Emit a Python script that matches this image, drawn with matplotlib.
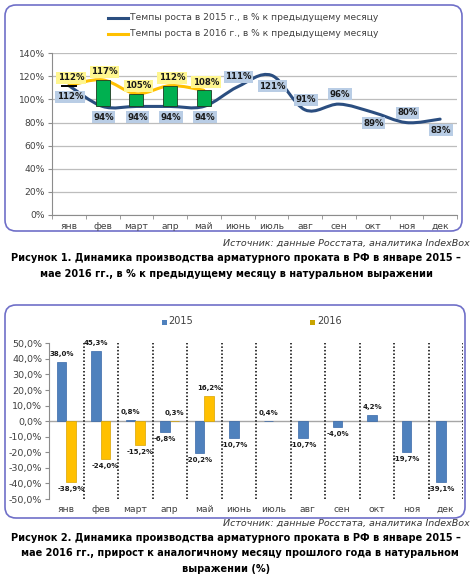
import matplotlib
matplotlib.use("Agg")
import matplotlib.pyplot as plt
from matplotlib.path import Path
from matplotlib.patches import PathPatch, FancyBboxPatch, Rectangle
from matplotlib.lines import Line2D
from matplotlib.transforms import IdentityTransform
import numpy as np

# ---------------- data ----------------
months = ['янв', 'фев', 'март', 'апр', 'май', 'июнь', 'июль', 'авг', 'сен', 'окт', 'ноя', 'дек']
growth_2015 = [112, 94, 94, 94, 94, 111, 121, 91, 96, 89, 80, 83]
growth_2016 = [112, 117, 105, 112, 108]
yoy_2015 = [38.0, 45.3, 0.8, -6.8, -20.2, -10.7, 0.4, -10.7, -4.0, 4.2, -19.7, -39.1]
yoy_2016 = [-38.9, -24.0, -15.2, 0.3, 16.2]
y1_ticks = [0, 20, 40, 60, 80, 100, 120, 140]
y2_ticks = [-50, -40, -30, -20, -10, 0, 10, 20, 30, 40, 50]
legend1 = ['Темпы роста в 2015 г., в % к предыдущему месяцу',
           'Темпы роста в 2016 г., в % к предыдущему месяцу']
legend2 = ['2015', '2016']
source = 'Источник: данные Росстата, аналитика IndexBox'
caption1 = ['Рисунок 1. Динамика производства арматурного проката в РФ в январе 2015 –',
            'мае 2016 гг., в % к предыдущему месяцу в натуральном выражении']
caption2 = ['Рисунок 2. Динамика производства арматурного проката в РФ в январе 2015 –',
            'мае 2016 гг., прирост к аналогичному месяцу прошлого года в натуральном',
            'выражении (%)']

# label placement styles (+1 above, -1 below)
pos_2015 = [-1, -1, -1, -1, -1, 1, -1, 1, 1, -1, 1, -1]

W, H = 474, 584
fig = plt.figure(figsize=(W / 100, H / 100), dpi=100)
fig.patch.set_facecolor('white')
ident = IdentityTransform()


def fx(x):
    return x / W


def fy(y):
    return 1 - y / H


def box(x0, y0, x1, y1):
    p = FancyBboxPatch((x0, H - y1), x1 - x0, y1 - y0,
                       boxstyle="round,pad=0,rounding_size=11",
                       transform=ident, fc='white', ec='#6F6FC8', lw=1.2, zorder=0)
    fig.add_artist(p)


def smooth_path(xs, ys):
    pts = np.column_stack([xs, ys]).astype(float)
    n = len(pts)
    verts = [pts[0]]
    codes = [Path.MOVETO]
    for i in range(n - 1):
        p0 = pts[i - 1] if i > 0 else pts[i]
        p1 = pts[i]
        p2 = pts[i + 1]
        p3 = pts[i + 2] if i + 2 < n else pts[i + 1]
        c1 = p1 + (p2 - p0) / 6.0
        c2 = p2 - (p3 - p1) / 6.0
        verts += [c1, c2, p2]
        codes += [Path.CURVE4] * 3
    return Path(verts, codes)


tick_color = '#404040'
spine_color = '#8C8C8C'

# ---------------- chart 1 ----------------
box(5, 5, 462, 231)
ax1 = fig.add_axes([fx(52), fy(215), (457 - 52) / W, (215 - 53.3) / H])
ax1.set_xlim(-0.5, 11.5)
ax1.set_ylim(0, 140)
ax1.set_facecolor('none')
ax1.set_yticks(y1_ticks)
ax1.set_yticklabels([f'{v}%' for v in y1_ticks])
ax1.yaxis.grid(True, color='#BDBDBD', lw=0.9)
ax1.set_axisbelow(True)
for s in ['top', 'right']:
    ax1.spines[s].set_visible(False)
for s in ['left', 'bottom']:
    ax1.spines[s].set_color(spine_color)
ax1.set_xticks(range(12))
ax1.set_xticklabels(months)
ax1.set_xticks(np.arange(-0.5, 12, 1), minor=True)
ax1.tick_params(axis='x', which='major', length=0, pad=5, labelsize=6.6, colors=tick_color)
ax1.tick_params(axis='x', which='minor', length=3, color=spine_color)
ax1.tick_params(axis='y', length=3, color=spine_color, labelsize=6.6, colors=tick_color, pad=2)

x15 = np.arange(len(growth_2015))
x16 = np.arange(len(growth_2016))
ax1.add_patch(PathPatch(smooth_path(x15, growth_2015), fc='none', ec='#2B4E80', lw=2.2, zorder=3,
                        capstyle='round'))
ax1.add_patch(PathPatch(smooth_path(x16, growth_2016), fc='none', ec='#FFC000', lw=2.2, zorder=3,
                        capstyle='round'))
# up/down bars
for i in range(len(growth_2016)):
    lo = min(growth_2015[i], growth_2016[i])
    hi = max(growth_2015[i], growth_2016[i])
    if hi - lo > 0:
        ax1.bar(i, hi - lo, bottom=lo, width=0.41, color='#00B050', edgecolor='#1E3A22', lw=0.6, zorder=4)
    else:
        ax1.plot([i - 0.205, i + 0.205], [lo, lo], color='black', lw=1.4, zorder=4)

lab_kw = dict(ha='center', va='center', fontsize=6.2, fontweight='bold', color='#1A1A1A',
              textcoords='offset pixels', zorder=6, annotation_clip=False)
for i, v in enumerate(growth_2015):
    off = 10 if pos_2015[i] > 0 else -11
    ax1.annotate(f'{v}%', (i, v), xytext=(1, off),
                 bbox=dict(boxstyle='square,pad=0.18', fc='#B9CDE5', ec='none'), **lab_kw)
for i, v in enumerate(growth_2016):
    ax1.annotate(f'{v}%', (i, v), xytext=(2, 8),
                 bbox=dict(boxstyle='square,pad=0.18', fc='#FFF68F', ec='none'), **lab_kw)

# legend 1
for k, (c, yy) in enumerate([('#2B4E80', 18), ('#FFC000', 33.5)]):
    fig.add_artist(Line2D([108, 128], [H - yy, H - yy], transform=ident, color=c, lw=2.2))
    fig.text(fx(130), fy(yy), legend1[k], ha='left', va='center', fontsize=6.6, color=tick_color)

fig.text(fx(470), fy(243), source, ha='right', va='center', fontsize=6.8,
         style='italic', color='#333333')
fig.text(fx(236), fy(258), caption1[0], ha='center', va='center', fontsize=7.0, fontweight='bold')
fig.text(fx(236), fy(274), caption1[1], ha='center', va='center', fontsize=7.0, fontweight='bold')

# ---------------- chart 2 ----------------
box(5, 305, 465, 518)
ax2 = fig.add_axes([fx(49), fy(499), (463 - 49) / W, (499 - 343.3) / H])
ax2.set_xlim(-0.5, 11.5)
ax2.set_ylim(-50, 50)
ax2.set_facecolor('none')
for s in ['top', 'right', 'bottom']:
    ax2.spines[s].set_visible(False)
ax2.spines['left'].set_color(spine_color)
ax2.set_yticks(y2_ticks)
ax2.set_yticklabels([f'{v:.1f}%'.replace('.', ',') for v in y2_ticks])
ax2.tick_params(axis='y', length=3, color=spine_color, labelsize=6.8, colors=tick_color, pad=2)
ax2.set_xticks(range(12))
ax2.set_xticklabels(months)
ax2.tick_params(axis='x', length=0, pad=4, labelsize=6.6, colors=tick_color)
ax2.axhline(0, color='#A6A6A6', lw=1.0, zorder=1)
ax2.vlines(np.arange(0.5, 12, 1), -50, 50, colors='black', linestyles=(0, (1, 1.3)), lw=1.1, zorder=1)

bw = 0.27
xa = np.arange(len(yoy_2015))
xb = np.arange(len(yoy_2016))
ax2.bar(xa - 0.135, yoy_2015, width=bw, color='#4F81BD', edgecolor='#3868A8', lw=0.5, zorder=3)
ax2.bar(xb + 0.135, yoy_2016, width=bw, color='#FFC000', edgecolor='#D9A400', lw=0.5, zorder=3)

lab2 = dict(ha='center', va='center', fontsize=5.0, fontweight='bold', color='#1A1A1A',
            textcoords='offset pixels', zorder=6, annotation_clip=False)
for i, v in enumerate(yoy_2015):
    ax2.annotate(f'{v:.1f}%'.replace('.', ','), (i - 0.135, v), xytext=(0, 8 if v >= 0 else -7), **lab2)
for i, v in enumerate(yoy_2016):
    ax2.annotate(f'{v:.1f}%'.replace('.', ','), (i + 0.135, v), xytext=(0, 8 if v >= 0 else -7), **lab2)

# legend 2
fig.add_artist(Rectangle((161.5, H - 324.5), 5, 5, transform=ident, fc='#4F81BD', ec='none'))
fig.text(fx(168), fy(321.5), legend2[0], ha='left', va='center', fontsize=7.0, color=tick_color)
fig.add_artist(Rectangle((310, H - 324.5), 5, 5, transform=ident, fc='#C9A400', ec='none'))
fig.text(fx(317), fy(321.5), legend2[1], ha='left', va='center', fontsize=7.0, color=tick_color)

fig.text(fx(470), fy(523), source, ha='right', va='center', fontsize=6.8,
         style='italic', color='#333333')
fig.text(fx(236), fy(538), caption2[0], ha='center', va='center', fontsize=7.0, fontweight='bold')
fig.text(fx(240), fy(553), caption2[1], ha='center', va='center', fontsize=7.0, fontweight='bold')
fig.text(fx(226), fy(569), caption2[2], ha='center', va='center', fontsize=7.0, fontweight='bold')

fig.savefig('out.png', dpi=100)
